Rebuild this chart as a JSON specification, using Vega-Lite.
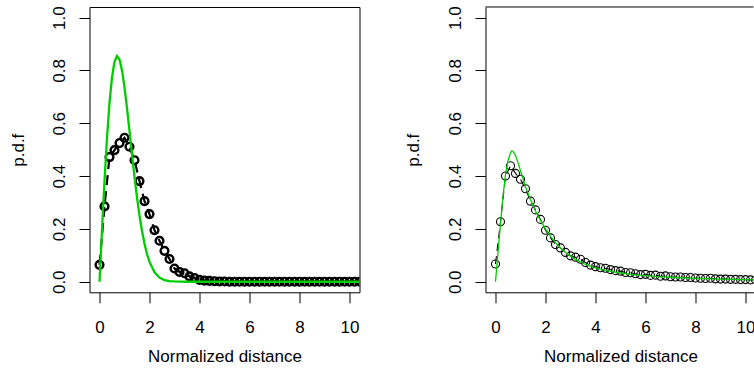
{
  "$schema": "https://vega.github.io/schema/vega-lite/v6.json",
  "padding": {"left": 8.5, "top": 5, "right": 0, "bottom": 0},
  "spacing": 44,
  "config": {
    "font": "Liberation Sans",
    "view": {"stroke": "black", "strokeWidth": 1},
    "axis": {
      "grid": false,
      "domain": false,
      "domainColor": "black",
      "tickColor": "black",
      "tickSize": 10.5,
      "tickWidth": 1,
      "labelFont": "Liberation Sans",
      "titleFont": "Liberation Sans",
      "labelFontSize": 17,
      "titleFontSize": 17,
      "titleFontWeight": "normal",
      "labelColor": "black",
      "titleColor": "black",
      "labelOverlap": false,
      "labelFlush": false
    }
  },
  "datasets": {
    "leftPts": [
      {"x": 0, "y": 0.064}, {"x": 0.2, "y": 0.285}, {"x": 0.4, "y": 0.472}, {"x": 0.6, "y": 0.498},
      {"x": 0.8, "y": 0.525}, {"x": 1.0, "y": 0.545}, {"x": 1.2, "y": 0.511}, {"x": 1.4, "y": 0.46},
      {"x": 1.6, "y": 0.381}, {"x": 1.8, "y": 0.305}, {"x": 2.0, "y": 0.256}, {"x": 2.2, "y": 0.195},
      {"x": 2.4, "y": 0.155}, {"x": 2.6, "y": 0.117}, {"x": 2.8, "y": 0.086}, {"x": 3.0, "y": 0.05},
      {"x": 3.2, "y": 0.037}, {"x": 3.4, "y": 0.032}, {"x": 3.6, "y": 0.02}, {"x": 3.8, "y": 0.014},
      {"x": 4.0, "y": 0.007}, {"x": 4.2, "y": 0.004}, {"x": 4.4, "y": 0.003}, {"x": 4.6, "y": 0.002},
      {"x": 4.8, "y": 0.001}, {"x": 5.0, "y": 0.001}, {"x": 5.2, "y": 0}, {"x": 5.4, "y": 0},
      {"x": 5.6, "y": 0}, {"x": 5.8, "y": 0}, {"x": 6.0, "y": 0}, {"x": 6.2, "y": 0},
      {"x": 6.4, "y": 0}, {"x": 6.6, "y": 0}, {"x": 6.8, "y": 0}, {"x": 7.0, "y": 0},
      {"x": 7.2, "y": 0}, {"x": 7.4, "y": 0}, {"x": 7.6, "y": 0}, {"x": 7.8, "y": 0},
      {"x": 8.0, "y": 0}, {"x": 8.2, "y": 0}, {"x": 8.4, "y": 0}, {"x": 8.6, "y": 0},
      {"x": 8.8, "y": 0}, {"x": 9.0, "y": 0}, {"x": 9.2, "y": 0}, {"x": 9.4, "y": 0},
      {"x": 9.6, "y": 0}, {"x": 9.8, "y": 0}, {"x": 10.0, "y": 0}, {"x": 10.2, "y": 0},
      {"x": 10.4, "y": 0}, {"x": 10.6, "y": 0}
    ],
    "leftFit": [
      {"x": 0, "y": 0}, {"x": 0.1, "y": 0.196}, {"x": 0.2, "y": 0.381}, {"x": 0.3, "y": 0.544},
      {"x": 0.4, "y": 0.677}, {"x": 0.5, "y": 0.774}, {"x": 0.6, "y": 0.833}, {"x": 0.7, "y": 0.854},
      {"x": 0.8, "y": 0.841}, {"x": 0.9, "y": 0.8}, {"x": 1.0, "y": 0.736}, {"x": 1.1, "y": 0.657},
      {"x": 1.2, "y": 0.571}, {"x": 1.3, "y": 0.482}, {"x": 1.4, "y": 0.397}, {"x": 1.5, "y": 0.319},
      {"x": 1.6, "y": 0.25}, {"x": 1.7, "y": 0.192}, {"x": 1.8, "y": 0.144}, {"x": 1.9, "y": 0.105},
      {"x": 2.0, "y": 0.075}, {"x": 2.2, "y": 0.036}, {"x": 2.4, "y": 0.016}, {"x": 2.6, "y": 0.006},
      {"x": 2.8, "y": 0.002}, {"x": 3.0, "y": 0.001}, {"x": 3.5, "y": 0}, {"x": 5, "y": 0},
      {"x": 7, "y": 0}, {"x": 9, "y": 0}, {"x": 10.6, "y": 0}
    ],
    "rightPts": [
      {"x": 0, "y": 0.067}, {"x": 0.2, "y": 0.227}, {"x": 0.4, "y": 0.4}, {"x": 0.6, "y": 0.439},
      {"x": 0.8, "y": 0.41}, {"x": 1.0, "y": 0.388}, {"x": 1.2, "y": 0.352}, {"x": 1.4, "y": 0.305},
      {"x": 1.6, "y": 0.272}, {"x": 1.8, "y": 0.236}, {"x": 2.0, "y": 0.195}, {"x": 2.2, "y": 0.166},
      {"x": 2.4, "y": 0.141}, {"x": 2.6, "y": 0.128}, {"x": 2.8, "y": 0.111}, {"x": 3.0, "y": 0.098},
      {"x": 3.2, "y": 0.093}, {"x": 3.4, "y": 0.085}, {"x": 3.6, "y": 0.073}, {"x": 3.8, "y": 0.063},
      {"x": 4.0, "y": 0.057}, {"x": 4.2, "y": 0.053}, {"x": 4.4, "y": 0.051}, {"x": 4.6, "y": 0.046},
      {"x": 4.8, "y": 0.042}, {"x": 5.0, "y": 0.04}, {"x": 5.2, "y": 0.035}, {"x": 5.4, "y": 0.034},
      {"x": 5.6, "y": 0.03}, {"x": 5.8, "y": 0.027}, {"x": 6.0, "y": 0.028}, {"x": 6.2, "y": 0.024},
      {"x": 6.4, "y": 0.025}, {"x": 6.6, "y": 0.021}, {"x": 6.8, "y": 0.022}, {"x": 7.0, "y": 0.019},
      {"x": 7.2, "y": 0.018}, {"x": 7.4, "y": 0.018}, {"x": 7.6, "y": 0.016}, {"x": 7.8, "y": 0.016},
      {"x": 8.0, "y": 0.014}, {"x": 8.2, "y": 0.013}, {"x": 8.4, "y": 0.012}, {"x": 8.6, "y": 0.013},
      {"x": 8.8, "y": 0.011}, {"x": 9.0, "y": 0.01}, {"x": 9.2, "y": 0.01}, {"x": 9.4, "y": 0.009},
      {"x": 9.6, "y": 0.009}, {"x": 9.8, "y": 0.008}, {"x": 10.0, "y": 0.008}, {"x": 10.2, "y": 0.007},
      {"x": 10.4, "y": 0.007}
    ],
    "rightFit": [
      {"x": 0, "y": 0}, {"x": 0.1, "y": 0.11}, {"x": 0.2, "y": 0.22}, {"x": 0.3, "y": 0.325},
      {"x": 0.4, "y": 0.405}, {"x": 0.5, "y": 0.458}, {"x": 0.6, "y": 0.488}, {"x": 0.65, "y": 0.495},
      {"x": 0.7, "y": 0.494}, {"x": 0.8, "y": 0.478}, {"x": 0.9, "y": 0.452}, {"x": 1.0, "y": 0.42},
      {"x": 1.1, "y": 0.39}, {"x": 1.2, "y": 0.36}, {"x": 1.4, "y": 0.31}, {"x": 1.6, "y": 0.268},
      {"x": 1.8, "y": 0.232}, {"x": 2.0, "y": 0.2}, {"x": 2.2, "y": 0.172}, {"x": 2.4, "y": 0.148},
      {"x": 2.6, "y": 0.128}, {"x": 2.8, "y": 0.111}, {"x": 3.0, "y": 0.097}, {"x": 3.25, "y": 0.082},
      {"x": 3.5, "y": 0.07}, {"x": 3.75, "y": 0.06}, {"x": 4.0, "y": 0.052}, {"x": 4.5, "y": 0.041},
      {"x": 5.0, "y": 0.033}, {"x": 5.5, "y": 0.027}, {"x": 6.0, "y": 0.023}, {"x": 6.5, "y": 0.019},
      {"x": 7.0, "y": 0.017}, {"x": 8.0, "y": 0.013}, {"x": 9.0, "y": 0.01}, {"x": 10.0, "y": 0.008},
      {"x": 10.5, "y": 0.007}
    ],
    "rightTop": [{"edge": 1.04}]
  },
  "hconcat": [
    {
      "width": 270,
      "height": 285.3,
      "encoding": {
        "x": {
          "field": "x", "type": "quantitative",
          "scale": {"domain": [-0.4, 10.4], "nice": false, "zero": false},
          "axis": {"values": [0, 2, 4, 6, 8, 10], "format": "d", "title": "Normalized distance",
                   "labelPadding": 16.4, "labelBaseline": "top", "titleY": 69.5, "titleBaseline": "alphabetic"}
        },
        "y": {
          "field": "y", "type": "quantitative",
          "scale": {"domain": [-0.04, 1.04], "nice": false, "zero": false},
          "axis": {"values": [0, 0.2, 0.4, 0.6, 0.8, 1.0], "format": ".1f", "title": "p.d.f",
                   "labelAngle": -90, "labelAlign": "center", "labelBaseline": "middle", "labelPadding": 19.3,
                   "titleAngle": -90, "titleX": -71.5, "titleY": 142.7, "titleAlign": "center", "titleBaseline": "middle"}
        }
      },
      "layer": [
        {"data": {"name": "leftPts"}, "mark": {"type": "line", "color": "black", "strokeWidth": 2.2, "strokeDash": [10, 6], "clip": true}},
        {"data": {"name": "leftPts"}, "mark": {"type": "point", "shape": "circle", "filled": false, "color": "black", "size": 60, "strokeWidth": 2.4, "opacity": 1, "clip": true}},
        {"data": {"name": "leftFit"}, "mark": {"type": "line", "color": "#00CD00", "strokeWidth": 2.3, "clip": true}}
      ]
    },
    {
      "width": 268,
      "height": 285.3,
      "view": {"stroke": null},
      "encoding": {
        "x": {
          "field": "x", "type": "quantitative",
          "scale": {"domain": [-0.4, 10.32], "nice": false, "zero": false},
          "axis": {"values": [0, 2, 4, 6, 8, 10], "format": "d", "title": "Normalized distance", "domain": true,
                   "labelPadding": 16.4, "labelBaseline": "top", "titleX": 135, "titleY": 69.5, "titleBaseline": "alphabetic"}
        },
        "y": {
          "field": "y", "type": "quantitative",
          "scale": {"domain": [-0.04, 1.04], "nice": false, "zero": false},
          "axis": {"values": [0, 0.2, 0.4, 0.6, 0.8, 1.0], "format": ".1f", "title": "p.d.f", "domain": true,
                   "labelAngle": -90, "labelAlign": "center", "labelBaseline": "middle", "labelPadding": 19.3,
                   "titleAngle": -90, "titleX": -71.5, "titleY": 142.7, "titleAlign": "center", "titleBaseline": "middle"}
        }
      },
      "layer": [
        {"data": {"name": "rightPts"}, "mark": {"type": "line", "color": "black", "strokeWidth": 1.1, "strokeDash": [8, 5], "clip": true}},
        {"data": {"name": "rightPts"}, "mark": {"type": "point", "shape": "circle", "filled": false, "color": "black", "size": 64, "strokeWidth": 1.1, "opacity": 1, "clip": true}},
        {"data": {"name": "rightFit"}, "mark": {"type": "line", "color": "#00CD00", "strokeWidth": 1.3, "clip": true}},
        {"data": {"name": "rightTop"}, "mark": {"type": "rule", "color": "black", "strokeWidth": 1}, "encoding": {"y": {"field": "edge", "type": "quantitative"}, "x": null}}
      ]
    }
  ]
}
